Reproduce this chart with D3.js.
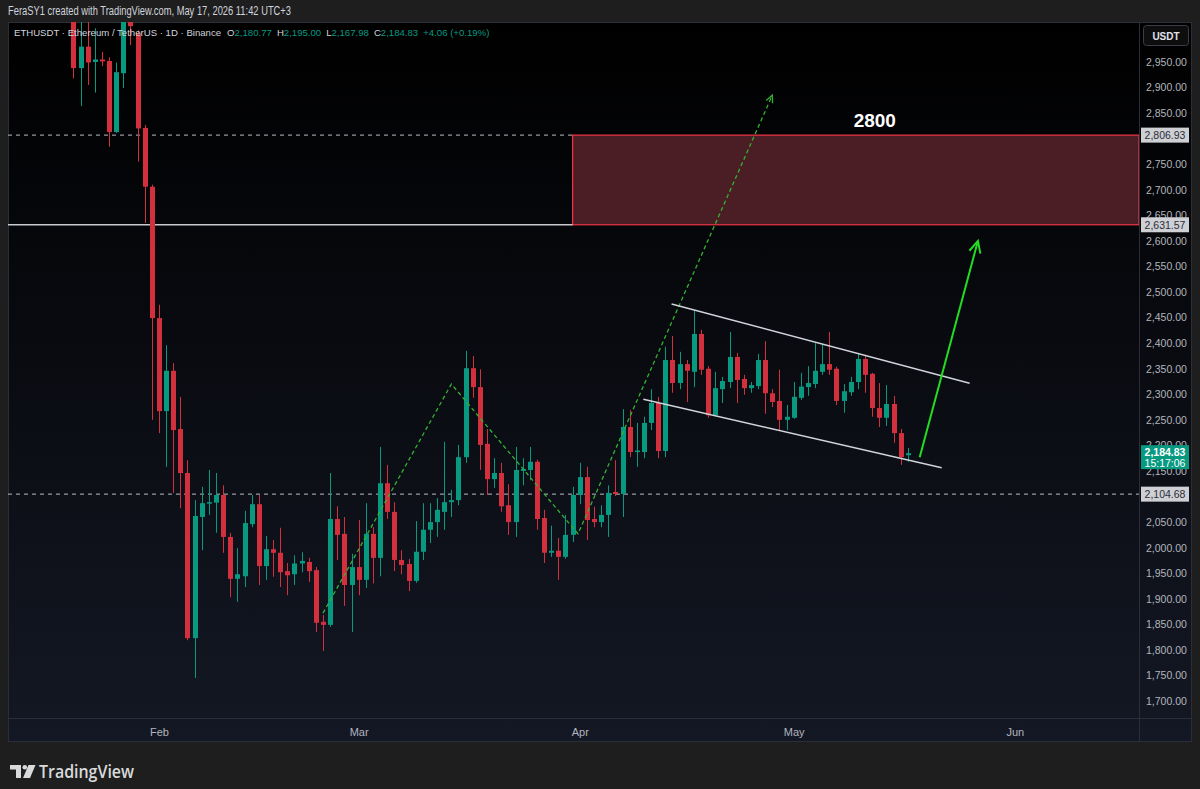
<!DOCTYPE html>
<html><head><meta charset="utf-8">
<script src="https://cdn.jsdelivr.net/npm/d3@7"></script>
<style>html,body{margin:0;padding:0;background:#1e1e1e;overflow:hidden}svg{display:block}</style>
</head><body><svg id="c" width="1200" height="789"></svg>
<script>
// ---------------- DATA ----------------
const dates = [
"2026-01-20","2026-01-21","2026-01-22","2026-01-23","2026-01-24","2026-01-25","2026-01-26","2026-01-27","2026-01-28","2026-01-29","2026-01-30","2026-01-31",
"2026-02-01","2026-02-02","2026-02-03","2026-02-04","2026-02-05","2026-02-06","2026-02-07","2026-02-08","2026-02-09","2026-02-10","2026-02-11","2026-02-12","2026-02-13","2026-02-14","2026-02-15","2026-02-16","2026-02-17","2026-02-18","2026-02-19","2026-02-20","2026-02-21","2026-02-22","2026-02-23","2026-02-24","2026-02-25","2026-02-26","2026-02-27","2026-02-28",
"2026-03-01","2026-03-02","2026-03-03","2026-03-04","2026-03-05","2026-03-06","2026-03-07","2026-03-08","2026-03-09","2026-03-10","2026-03-11","2026-03-12","2026-03-13","2026-03-14","2026-03-15","2026-03-16","2026-03-17","2026-03-18","2026-03-19","2026-03-20","2026-03-21","2026-03-22","2026-03-23","2026-03-24","2026-03-25","2026-03-26","2026-03-27","2026-03-28","2026-03-29","2026-03-30","2026-03-31",
"2026-04-01","2026-04-02","2026-04-03","2026-04-04","2026-04-05","2026-04-06","2026-04-07","2026-04-08","2026-04-09","2026-04-10","2026-04-11","2026-04-12","2026-04-13","2026-04-14","2026-04-15","2026-04-16","2026-04-17","2026-04-18","2026-04-19","2026-04-20","2026-04-21","2026-04-22","2026-04-23","2026-04-24","2026-04-25","2026-04-26","2026-04-27","2026-04-28","2026-04-29","2026-04-30",
"2026-05-01","2026-05-02","2026-05-03","2026-05-04","2026-05-05","2026-05-06","2026-05-07","2026-05-08","2026-05-09","2026-05-10","2026-05-11","2026-05-12","2026-05-13","2026-05-14","2026-05-15","2026-05-16","2026-05-17"];
const open = [
3050,2938,2980,2950,2955,2952,2813,2928,3045,3006,2821,2706,
2449,2267,2346,2232,2146,1823,2060,2086,2088,2103,2021,1939,1944,2046,2085,1964,1997,1990,1954,1948,1969,1972,1956,1855,1849,2056,2027,1927,
1962,1937,2027,1980,2126,2070,1976,1968,1935,1992,2035,2050,2070,2089,2093,2177,2351,2314,2203,2134,2146,2083,2050,2150,2152,2168,2058,1990,1994,1982,2025,
2103,2138,2056,2050,2064,2109,2105,2236,2187,2187,2244,2283,2189,2367,2322,2359,2344,2418,2350,2259,2310,2324,2373,2330,2312,2316,2367,2302,2287,2250,
2254,2293,2314,2320,2344,2359,2350,2287,2304,2324,2369,2340,2273,2254,2281,2224,2180.77];
const high = [
3080,3040,3040,3016,2970,2959,2949,3070,3060,3012,2827,2710,
2475,2396,2361,2295,2171,2093,2119,2152,2146,2122,2029,1999,2072,2103,2103,2023,2015,2039,1970,1985,1991,1980,1962,1868,2146,2081,2060,1988,
2054,2087,2040,2197,2162,2089,1995,1978,2052,2087,2087,2097,2207,2113,2201,2385,2375,2349,2232,2175,2166,2124,2197,2175,2197,2172,2074,2043,2019,2064,2119,
2166,2158,2080,2083,2122,2171,2271,2269,2244,2256,2310,2295,2393,2414,2383,2367,2463,2426,2355,2344,2334,2422,2381,2338,2324,2379,2404,2310,2348,2279,
2324,2342,2355,2400,2398,2422,2354,2320,2334,2381,2377,2342,2322,2318,2297,2232,2195.00];
const low = [
2918,2864,2905,2890,2942,2784,2811,2899,2983,2755,2635,2250,
2224,2158,2107,2077,1819,1745,1995,2064,2029,1990,1903,1894,1923,2040,1927,1937,1943,1923,1907,1927,1952,1933,1835,1798,1845,1976,1886,1835,
1907,1921,1930,1944,2056,1954,1948,1915,1931,1976,2009,2021,2035,2060,2083,2166,2293,2152,2103,2117,2070,2025,2021,2122,2132,2035,1970,1982,1937,1978,2011,
2085,2015,2040,2040,2021,2101,2060,2177,2158,2175,2230,2175,2177,2303,2310,2285,2314,2338,2254,2257,2283,2312,2283,2299,2303,2310,2262,2275,2230,2230,
2252,2289,2297,2312,2338,2338,2279,2264,2297,2310,2303,2256,2236,2238,2205,2162,2167.98];
const close = [
2938,2980,2949,2955,2951,2813,2930,3045,3020,2820,2706,2449,
2267,2346,2230,2146,1823,2062,2087,2089,2103,2021,1939,1948,2048,2085,1964,1997,1990,1952,1946,1969,1974,1954,1853,1849,2056,2025,1927,1962,
1937,2027,1980,2126,2070,1976,1966,1935,1992,2035,2050,2074,2089,2093,2177,2351,2314,2201,2134,2146,2081,2050,2152,2154,2168,2056,1990,1994,1982,2025,2103,
2138,2054,2050,2064,2107,2105,2236,2187,2190,2244,2283,2189,2367,2322,2359,2346,2418,2348,2259,2312,2326,2373,2328,2312,2318,2367,2302,2285,2250,2256,
2295,2315,2322,2346,2359,2348,2287,2306,2324,2369,2338,2273,2254,2281,2224,2177,2184.83];

// price-axis labels (2,800 and 2,100 sit fully under the level tags in the reference)
const priceTicks = d3.range(1700, 2951, 50).filter(v => v !== 2800 && v !== 2100);
const monthTicks = ["2026-02-01","2026-03-01","2026-04-01","2026-05-01","2026-06-01"];
const monthLabels = ["Feb","Mar","Apr","May","Jun"];

const zoneTop = 2806.93, zoneBottom = 2631.57, supportLevel = 2104.68, lastPrice = 2184.83;
const zoneStart = "2026-03-31";
const channelUpper = [["2026-04-13T21:00",2476.6],["2026-05-25T16:00",2321.5]];
const channelLower = [["2026-04-09T22:00",2290.2],["2026-05-21T18:00",2156.4]];
const projection = [["2026-02-24T00:00",1872],["2026-03-14T00:00",2320],["2026-03-31T18:00",2027],["2026-04-28T00:00",2885]];
const targetArrow = [["2026-05-18T16:00",2177],["2026-05-26T20:00",2600]];
const targetLabel = ["2026-05-12T09:00",2836,"2800"];
const legendValues = ["2,180.77","2,195.00","2,167.98","2,184.83","+4.06 (+0.19%)"];

// ---------------- LAYOUT ----------------
const W=1200,H=789;
const pane={l:8,r:1139,t:22,b:718};
const axisR=1192, axisB=742;
const UP="#089981", DN="#d3303e";
const P=s=>new Date(s.length<=10? s+"T00:00:00Z" : s+":00Z");

const x=d3.scaleUtc().domain([P("2026-01-10T20:00"),P("2026-06-18T10:00")]).range([pane.l,pane.r]);
const y=d3.scaleLinear().domain([1666.8,3028.2]).range([pane.b,pane.t]);

const svg=d3.select("#c");
const defs=svg.append("defs");
const g1=defs.append("linearGradient").attr("id","bg").attr("x1",0).attr("y1",0).attr("x2",0).attr("y2",1);
g1.append("stop").attr("offset","0%").attr("stop-color","#000000");
g1.append("stop").attr("offset","100%").attr("stop-color","#141824");
defs.append("clipPath").attr("id","clip").append("rect")
  .attr("x",pane.l).attr("y",pane.t).attr("width",pane.r-pane.l).attr("height",pane.b-pane.t);

svg.append("rect").attr("width",W).attr("height",H).attr("fill","#1e1e1e");
svg.append("rect").attr("x",pane.l).attr("y",pane.t).attr("width",axisR-pane.l).attr("height",axisB-pane.t).attr("fill","url(#bg)");
const frame=svg.append("g").attr("stroke","#2a2e39").attr("fill","none");
frame.append("rect").attr("x",pane.l+0.5).attr("y",pane.t+0.5).attr("width",axisR-pane.l-1).attr("height",axisB-pane.t-1);
frame.append("line").attr("x1",pane.r+0.5).attr("x2",pane.r+0.5).attr("y1",pane.t).attr("y2",axisB);
frame.append("line").attr("x1",pane.l).attr("x2",axisR).attr("y1",pane.b+0.5).attr("y2",pane.b+0.5);

// header
svg.append("text").attr("x",8).attr("y",15).attr("fill","#d1d4dc")
  .style("font","12px 'Liberation Sans', Arial, sans-serif")
  .attr("textLength",283).attr("lengthAdjust","spacingAndGlyphs")
  .text("FeraSY1 created with TradingView.com, May 17, 2026 11:42 UTC+3");

const plot=svg.append("g").attr("clip-path","url(#clip)");

// zone + levels
const zx=x(P(zoneStart));
plot.append("rect").attr("x",zx).attr("y",y(zoneTop)).attr("width",pane.r-zx).attr("height",y(zoneBottom)-y(zoneTop))
  .attr("fill","#4b1d25").attr("stroke","#f23645").attr("stroke-width",1.2);
plot.append("line").attr("x1",pane.l).attr("x2",zx).attr("y1",y(zoneTop)).attr("y2",y(zoneTop))
  .attr("stroke","#b8bbc4").attr("stroke-dasharray","4,4").attr("stroke-width",1);
plot.append("line").attr("x1",pane.l).attr("x2",zx).attr("y1",y(zoneBottom)).attr("y2",y(zoneBottom))
  .attr("stroke","#c8cad0").attr("stroke-width",1.6);
plot.append("line").attr("x1",pane.l).attr("x2",pane.r).attr("y1",y(supportLevel)).attr("y2",y(supportLevel))
  .attr("stroke","#b8bbc4").attr("stroke-dasharray","4,4").attr("stroke-width",1);

// candles
const candles=dates.map((d,i)=>({d:P(d),o:open[i],h:high[i],l:low[i],c:close[i]}));
const cg=plot.append("g");
cg.selectAll("line.w").data(candles).join("line").attr("class","w")
  .attr("x1",d=>Math.round(x(d.d))+0.5).attr("x2",d=>Math.round(x(d.d))+0.5)
  .attr("y1",d=>y(d.h)).attr("y2",d=>y(d.l))
  .attr("stroke",d=>d.c>=d.o?UP:DN).attr("stroke-width",1);
cg.selectAll("rect.b").data(candles).join("rect").attr("class","b")
  .attr("x",d=>Math.round(x(d.d))-2).attr("width",5)
  .attr("y",d=>y(Math.max(d.o,d.c)))
  .attr("height",d=>Math.max(1.5,Math.abs(y(d.o)-y(d.c))))
  .attr("fill",d=>d.c>=d.o?UP:DN);

// projection dashed path
const pt=a=>[x(P(a[0])),y(a[1])];
const projPts=projection.map(pt);
plot.append("path").attr("d",d3.line()(projPts)).attr("fill","none")
  .attr("stroke","#34b233").attr("stroke-width",1.3).attr("stroke-dasharray","4,3");
function arrowHead(p0,p1,len,col,w){
  const a=Math.atan2(p1[1]-p0[1],p1[0]-p0[0]);
  const pts=[[p1[0]-len*Math.cos(a-0.45),p1[1]-len*Math.sin(a-0.45)],p1,[p1[0]-len*Math.cos(a+0.45),p1[1]-len*Math.sin(a+0.45)]];
  plot.append("path").attr("d",d3.line()(pts)).attr("fill","none").attr("stroke",col).attr("stroke-width",w);
}
arrowHead(projPts[2],projPts[3],8,"#34b233",1.3);

// channel
[channelUpper,channelLower].forEach(c=>{
  plot.append("path").attr("d",d3.line()(c.map(pt))).attr("stroke","#d1d4dc").attr("stroke-width",1.4).attr("fill","none");
});
// target arrow
const ta=targetArrow.map(pt);
plot.append("path").attr("d",d3.line()(ta)).attr("stroke","#22dd22").attr("stroke-width",2).attr("fill","none");
arrowHead(ta[0],ta[1],13,"#22dd22",2);
plot.append("text").attr("x",x(P(targetLabel[0]))).attr("y",y(targetLabel[1])).attr("text-anchor","middle")
  .attr("dominant-baseline","central").attr("fill","#ffffff")
  .style("font","bold 19px 'Liberation Sans', Arial, sans-serif").text(targetLabel[2]);

// legend
const lg=svg.append("text").attr("x",14).attr("y",36).style("font","9.6px 'Liberation Sans', Arial, sans-serif").attr("fill","#d1d4dc");
lg.append("tspan").text("ETHUSDT · Ethereum / TetherUS · 1D · Binance");
["O","H","L","C"].forEach((k,i)=>{
  lg.append("tspan").attr("dx",i==0?6:5).attr("fill","#d1d4dc").text(k);
  lg.append("tspan").attr("fill",UP).text(legendValues[i]);
});
lg.append("tspan").attr("dx",5).attr("fill",UP).text(legendValues[4]);

// price axis
const ya=svg.append("g").attr("transform",`translate(${pane.r},0)`)
  .call(d3.axisRight(y).tickValues(priceTicks).tickFormat(d3.format(",.2f")).tickSize(0).tickPadding(7));
ya.select(".domain").remove();
ya.selectAll("text").attr("fill","#b2b5be").style("font","10.5px 'Liberation Sans', Arial, sans-serif");

// time axis
const xa=svg.append("g").attr("transform",`translate(0,${pane.b})`)
  .call(d3.axisBottom(x).tickValues(monthTicks.map(P)).tickFormat((d,i)=>monthLabels[i]).tickSize(0).tickPadding(10));
xa.select(".domain").remove();
xa.selectAll("text").attr("fill","#b2b5be").style("font","11px 'Liberation Sans', Arial, sans-serif");

// price tags
function tag(v,txt){
  const gy=y(v);
  svg.append("rect").attr("x",pane.r+2).attr("y",gy-7.5).attr("width",48).attr("height",15).attr("fill","#cfd0d4");
  svg.append("text").attr("x",pane.r+26).attr("y",gy).attr("text-anchor","middle").attr("dominant-baseline","central")
    .attr("fill","#2a2e39").style("font","10.5px 'Liberation Sans', Arial, sans-serif").text(txt);
}
tag(zoneTop,d3.format(",.2f")(zoneTop));
tag(zoneBottom,d3.format(",.2f")(zoneBottom));
tag(supportLevel,d3.format(",.2f")(supportLevel));
{
  const gy=y(lastPrice);
  svg.append("rect").attr("x",pane.r+2).attr("y",gy-8).attr("width",48).attr("height",24).attr("fill",UP);
  svg.append("text").attr("x",pane.r+26).attr("y",gy-1).attr("text-anchor","middle").attr("dominant-baseline","central")
    .attr("fill","#ffffff").style("font","bold 10.5px 'Liberation Sans', Arial, sans-serif").text(d3.format(",.2f")(lastPrice));
  svg.append("text").attr("x",pane.r+26).attr("y",gy+10).attr("text-anchor","middle").attr("dominant-baseline","central")
    .attr("fill","#ffffff").style("font","10.5px 'Liberation Sans', Arial, sans-serif").text("15:17:06");
}
// USDT button
svg.append("rect").attr("x",1143.5).attr("y",25.5).attr("width",45).attr("height",20).attr("rx",3)
  .attr("fill","#0e0e0e").attr("stroke","#3a3d45");
svg.append("text").attr("x",1166).attr("y",36).attr("text-anchor","middle").attr("dominant-baseline","central")
  .attr("fill","#e0e3eb").style("font","bold 10px 'Liberation Sans', Arial, sans-serif").text("USDT");

// footer logo
const lf=svg.append("g").attr("fill","#d9dadc");
lf.append("path").attr("d","M10,765 H21 V778 H16 V769.5 H10 Z");
lf.append("circle").attr("cx",24.8).attr("cy",767.3).attr("r",2.3);
lf.append("path").attr("d","M28.5,765 H35.5 L30,778 H23 Z");
svg.append("text").attr("x",39).attr("y",778).attr("fill","#d9dadc")
  .style("font","600 18px 'Open Sans', 'Liberation Sans', Arial, sans-serif")
  .attr("textLength",95).attr("lengthAdjust","spacingAndGlyphs").text("TradingView");
</script></body></html>
